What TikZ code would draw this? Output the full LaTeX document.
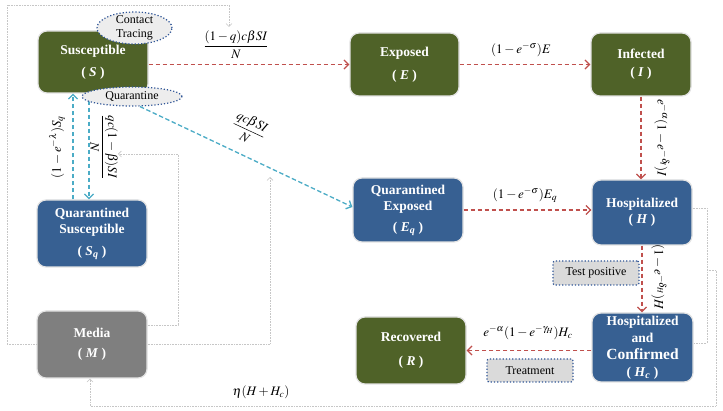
\documentclass[tikz,border=0pt]{standalone}
\usepackage{amsmath}
\usepackage{mathptmx}
\usepackage{fontspec}
\setmainfont{Liberation Serif}
\usetikzlibrary{arrows.meta,shapes.geometric,calc}
\definecolor{cgreen}{HTML}{4F6228}
\definecolor{cblue}{HTML}{376092}
\definecolor{cmedia}{HTML}{7F7F7F}
\definecolor{cred}{HTML}{C0504D}
\definecolor{ccyan}{HTML}{4BACC6}
\definecolor{cdot}{HTML}{2F5597}
\definecolor{cell}{HTML}{EDEDED}
\definecolor{ctag}{HTML}{DADADA}
\begin{document}
\begin{tikzpicture}[x=1pt,y=-1pt,
  box/.style={rounded corners=9pt, draw=gray!22, line width=1.2pt, text=white,
    align=center, font=\bfseries\fontsize{13.5}{15}\selectfont, inner sep=0pt},
  redarrow/.style={draw=cred, line width=1.3pt, dash pattern=on 4.5pt off 2.5pt,
    -{Straight Barb[length=4.5pt,width=9pt]}},
  cyanarrow/.style={draw=ccyan, line width=1.3pt, dash pattern=on 4.5pt off 2.5pt,
    -{Straight Barb[length=4.5pt,width=9pt]}},
  gline/.style={draw=gray!45, line width=0.6pt, densely dotted},
  gtip/.style={-{Straight Barb[length=3pt,width=6pt]}},
  ell/.style={ellipse, draw=cdot, fill=cell, line width=1.2pt, dotted, inner sep=0pt},
  tag/.style={draw=cdot, fill=ctag, line width=1.2pt, dotted, rounded corners=2pt,
    inner sep=0pt, font=\fontsize{12}{14}\selectfont},
  lbl/.style={inner sep=0pt, font=\fontsize{13}{15}\selectfont},
  etxt/.style={inner sep=0pt, align=center, font=\fontsize{12}{13}\selectfont}
]
\fill[white] (0,0) rectangle (723,411);
\useasboundingbox (0,0) rectangle (723,411);

% boxes
\node[box, fill=cgreen, minimum width=110pt, minimum height=62pt] (S) at (93,62)
  {Susceptible\\[7pt]( \textit{S} )};
\node[box, fill=cgreen, minimum width=109pt, minimum height=63pt] (E) at (404.5,64.5)
  {Exposed\\[8pt]( \textit{E} )};
\node[box, fill=cgreen, minimum width=100pt, minimum height=63pt] (I) at (641,64.5)
  {Infected\\[3pt]( \textit{I} )};
\node[box, fill=cblue, minimum width=110pt, minimum height=67pt] (Sq) at (92,233.5)
  {Quarantined\\[1pt]Susceptible\\[7pt]( \textit{S}\textsubscript{\textit{q}} )};
\node[box, fill=cblue, minimum width=110pt, minimum height=64pt] (Eq) at (408,210)
  {Quarantined\\[1pt]Exposed\\[6pt]( \textit{E}\textsubscript{\textit{q}} )};
\node[box, fill=cblue, minimum width=100pt, minimum height=65pt] (H) at (642,212.5)
  {Hospitalized\\[1pt]( \textit{H} )};
\node[box, fill=cmedia, minimum width=110pt, minimum height=67pt] (M) at (92,344.5)
  {Media\\[5pt]( \textit{M} )};
\node[box, fill=cgreen, minimum width=110pt, minimum height=67pt] (R) at (411,350.5)
  {Recovered\\[9pt]( \textit{R} )};
\node[box, fill=cblue, minimum width=101pt, minimum height=69pt] (Hc) at (642.5,347.5)
  {Hospitalized\\[2pt]and\\[2pt]{\fontsize{15.5}{15}\selectfont Confirmed}\\[2pt]( \textit{H}\textsubscript{\textit{c}} )};

% gray feedback lines
\coordinate (fb1) at (229,27);
\coordinate (fb2) at (118,154);
\coordinate (fb3) at (270,177);
\draw[gline,gtip] (M.west) -- (7,344.5) -- (7,5) -- (229,5) -- (fb1);
\draw[gline,gtip] ([yshift=19.5pt]M.east) -- (178,325) |- (fb2);
\draw[gline,gtip] (M.east) -- (270,344.5) -- (fb3);
\draw[gline] ([yshift=4.5pt]H.east) -- (707,208) |- ([yshift=4.5pt]Hc.east);
\draw[gline,gtip] (707,270) -- (716,270) -- (716,406) -| ([xshift=-2pt]M.south);
\node[lbl] (leta) at (261,392) {$\eta(H+H_c)$};

% red arrows
\draw[redarrow] (S.east |- E.west) -- (E.west);
\draw[redarrow] (E.east) -- (I.west);
\draw[redarrow] (I.south) -- (I.south |- H.north);
\draw[redarrow] (Eq.east) -- (Eq.east -| H.west);
\draw[redarrow] (H.south) -- (H.south |- Hc.north);
\draw[redarrow] (Hc.west |- R.east) -- (R.east);

% cyan arrows
\draw[cyanarrow] ([xshift=-19pt]Sq.north) -- ([xshift=-19pt]Sq.north |- S.south);
\draw[cyanarrow] ([xshift=-4pt]S.south) -- ([xshift=-4pt]S.south |- Sq.north);

% ellipses
\node[ell, minimum width=75pt, minimum height=32pt] (ct) at (134.5,28) {};
\node[etxt] (ctt) at (ct) {Contact\\[1pt]Tracing};
\node[ell, minimum width=100pt, minimum height=19pt] (qua) at (132,96.5) {};
\node[etxt] (quat) at (qua) {Quarantine};

\draw[cyanarrow] ([xshift=8pt]qua.south) -- ([yshift=3pt]Eq.west);

% tags
\node[tag, minimum width=86pt, minimum height=24pt] (tp) at (596,273) {Test positive};
\node[tag, minimum width=86pt, minimum height=23pt] (tr) at (530,370.5) {Treatment};

% labels
\node[lbl] (l1) at (236,45) {$\dfrac{(1-q)c\beta SI}{N}$};
\node[lbl] (l2) at (521,50) {$(1-e^{-\sigma})E$};
\node[lbl] (l3) at (525,195) {$(1-e^{-\sigma})E_q$};
\node[lbl] (l4) at (528,333) {$e^{-\alpha}(1-e^{-\gamma_H})H_c$};
\node[lbl, rotate=-90] (l5) at (662,138) {$e^{-\alpha}(1-e^{-\delta_I})I$};
\node[lbl, rotate=-90] (l6) at (659,277) {$(1-e^{-\delta_H})H$};
\node[lbl, rotate=90] (l7) at (57,147) {$(1-e^{-\lambda})S_q$};
\node[lbl, rotate=-90] (l8) at (104,147) {$\dfrac{qc(1-\beta)SI}{N}$};
\node[lbl, rotate=-25] (l9) at (249,129) {$\dfrac{qc\beta SI}{N}$};
\end{tikzpicture}
\end{document}
